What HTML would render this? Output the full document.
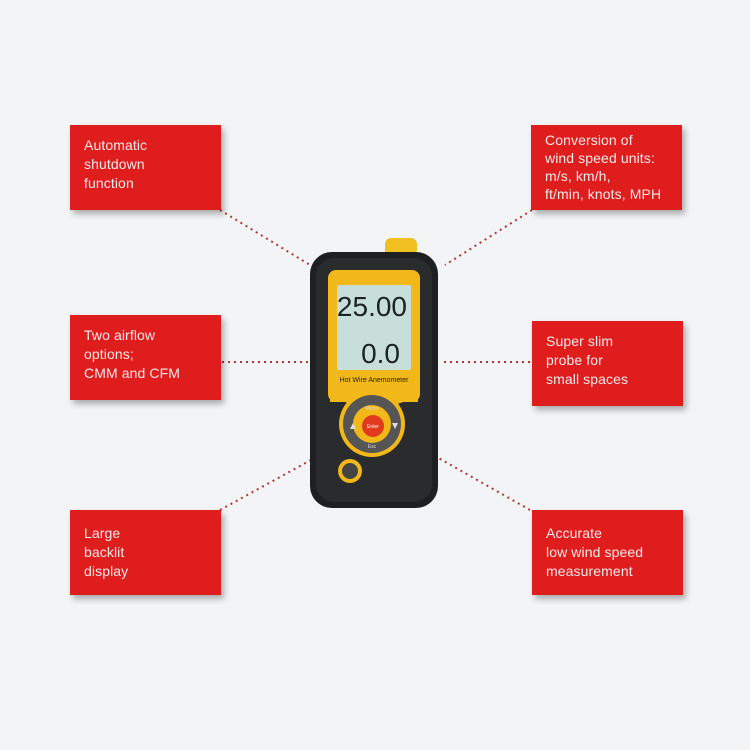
<!DOCTYPE html>
<html><head><meta charset="utf-8"><style>
html,body{margin:0;padding:0;background:#f3f4f6;}
.b{position:absolute;width:151px;height:85px;background:#e01d1d;box-shadow:3px 4px 6px rgba(0,0,0,0.3);color:#f6eaea;font-family:"Liberation Sans",sans-serif;font-size:14px;line-height:19px;box-sizing:border-box;padding:11px 0 0 14px;letter-spacing:0.1px}
</style></head><body>
<div style="position:relative;width:750px;height:750px;overflow:hidden">
<svg width="750" height="750" style="position:absolute;left:0;top:0">
<g stroke="#b2343a" stroke-width="2" stroke-dasharray="2 4" fill="none">
<line x1="220" y1="210" x2="310" y2="265"/>
<line x1="532" y1="210" x2="445" y2="265"/>
<line x1="222" y1="362" x2="310" y2="362"/>
<line x1="530" y1="362" x2="444" y2="362"/>
<line x1="220" y1="510" x2="320" y2="455"/>
<line x1="530" y1="510" x2="428" y2="452"/>
</g>
<rect x="385" y="238" width="32" height="18" rx="6" fill="#f0c020"/>
<rect x="310" y="252" width="128" height="256" rx="22" fill="#1e1f20"/>
<rect x="316" y="258" width="116" height="244" rx="18" fill="#2a2b2c"/>
<rect x="328" y="270" width="92" height="132" rx="8" fill="#f2b81a"/>
<rect x="337" y="285" width="74" height="85" rx="2" fill="#c8dedb"/>
<text x="407" y="316" font-family="Liberation Sans Narrow, Liberation Sans" font-size="28" text-anchor="end" fill="#1b2224">25.00</text>
<text x="400" y="363" font-family="Liberation Sans Narrow, Liberation Sans" font-size="28" text-anchor="end" fill="#1b2224">0.0</text>
<text x="374" y="382" font-family="Liberation Sans" font-size="7" text-anchor="middle" fill="#222">Hot Wire Anemometer</text>
<path d="M330 395 Q374 420 418 395 L418 402 L330 402Z" fill="#f2b81a"/>
<circle cx="372" cy="424" r="33" fill="#f2b81a"/>
<circle cx="372" cy="424" r="29" fill="#555"/>
<circle cx="372" cy="424" r="19" fill="#f2b81a"/>
<circle cx="373" cy="426" r="11" fill="#e23a1e"/>
<text x="373" y="428" font-family="Liberation Sans" font-size="5" text-anchor="middle" fill="#fff">Enter</text>
<text x="372" y="410" font-family="Liberation Sans" font-size="5" text-anchor="middle" fill="#ddd">Menu</text>
<text x="372" y="448" font-family="Liberation Sans" font-size="5" text-anchor="middle" fill="#ddd">Esc</text>
<polygon points="350,429 356,429 353,423" fill="#ddd"/>
<polygon points="392,423 398,423 395,429" fill="#ddd"/>
<circle cx="350" cy="471" r="12" fill="#f2b81a"/>
<circle cx="350" cy="471" r="8" fill="#444"/>
</svg>
<div class="b" style="left:70px;top:125px">Automatic<br>shutdown<br>function</div>
<div class="b" style="left:531px;top:125px;padding-top:6px;line-height:18px">Conversion of<br>wind speed units:<br>m/s, km/h,<br>ft/min, knots, MPH</div>
<div class="b" style="left:70px;top:315px">Two airflow<br>options;<br>CMM and CFM</div>
<div class="b" style="left:532px;top:321px">Super slim<br>probe for<br>small spaces</div>
<div class="b" style="left:70px;top:510px;padding-top:14px">Large<br>backlit<br>display</div>
<div class="b" style="left:532px;top:510px;padding-top:14px">Accurate<br>low wind speed<br>measurement</div>
</div>
</body></html>
